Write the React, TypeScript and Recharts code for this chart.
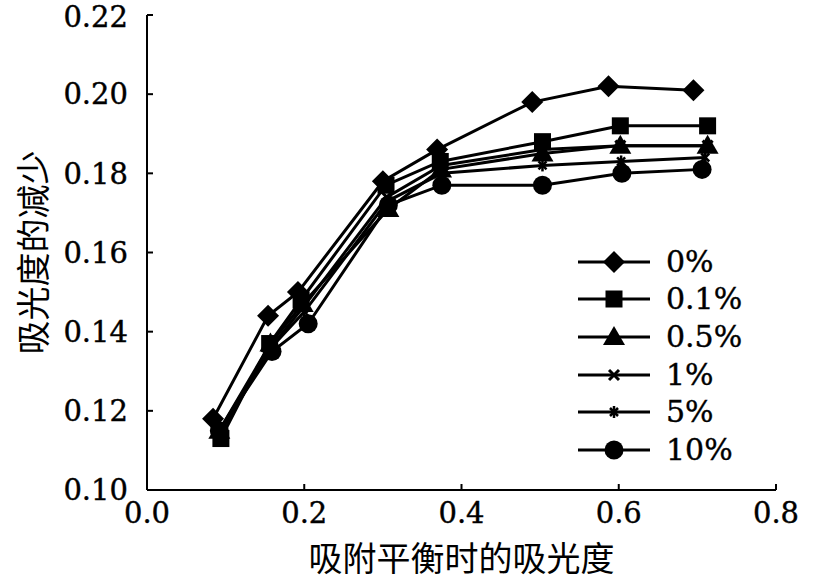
import { ScatterChart, Scatter, XAxis, YAxis, Legend } from 'recharts'

const X_TICKS = [0, 0.2, 0.4, 0.6, 0.8]
const Y_TICKS = [0.1, 0.12, 0.14, 0.16, 0.18, 0.2, 0.22]

// absorbance at adsorption equilibrium (x) per series
const X_0 = [0.084, 0.154, 0.192, 0.3, 0.369, 0.49, 0.587, 0.695]
const X_01 = [0.094, 0.156, 0.196, 0.304, 0.373, 0.503, 0.602, 0.713]
const X_05 = [0.092, 0.157, 0.198, 0.307, 0.374, 0.503, 0.602, 0.713]
const X_1 = [0.092, 0.157, 0.198, 0.305, 0.374, 0.503, 0.602, 0.713]
const X_5 = [0.092, 0.158, 0.2, 0.306, 0.375, 0.503, 0.603, 0.71]
const X_10 = [0.092, 0.159, 0.205, 0.307, 0.375, 0.503, 0.604, 0.706]

// decrease of absorbance (y)
const Y_0 = [0.118, 0.144, 0.15, 0.178, 0.186, 0.198, 0.202, 0.201]
const Y_01 = [0.113, 0.137, 0.148, 0.177, 0.183, 0.188, 0.192, 0.192]
const Y_05 = [0.115, 0.137, 0.147, 0.171, 0.181, 0.185, 0.187, 0.187]
const Y_1 = [0.115, 0.136, 0.146, 0.174, 0.182, 0.186, 0.187, 0.187]
const Y_5 = [0.114, 0.136, 0.145, 0.173, 0.18, 0.182, 0.183, 0.184]
const Y_10 = [0.115, 0.135, 0.142, 0.172, 0.177, 0.177, 0.18, 0.181]

const LABELS = ['0%', '0.1%', '0.5%', '1%', '5%', '10%']

type Mk = 'diamond' | 'square' | 'triangle' | 'x' | 'star' | 'circle'

const SERIES: { name: string; xs: number[]; ys: number[]; mk: Mk }[] = [
  { name: LABELS[0], xs: X_0, ys: Y_0, mk: 'diamond' },
  { name: LABELS[1], xs: X_01, ys: Y_01, mk: 'square' },
  { name: LABELS[2], xs: X_05, ys: Y_05, mk: 'triangle' },
  { name: LABELS[3], xs: X_1, ys: Y_1, mk: 'x' },
  { name: LABELS[4], xs: X_5, ys: Y_5, mk: 'star' },
  { name: LABELS[5], xs: X_10, ys: Y_10, mk: 'circle' },
]

const SERIF = "'DejaVu Serif', serif"
const CJK = "'Noto Sans CJK SC', sans-serif"

function Marker({ mk, cx, cy }: { mk: Mk; cx: number; cy: number }) {
  switch (mk) {
    case 'diamond':
      return <polygon points={`${cx},${cy - 11} ${cx + 11},${cy} ${cx},${cy + 11} ${cx - 11},${cy}`} fill="#000" />
    case 'square':
      return <rect x={cx - 8.5} y={cy - 8.5} width={17} height={17} fill="#000" />
    case 'triangle':
      return <polygon points={`${cx},${cy - 11} ${cx + 11},${cy + 8} ${cx - 11},${cy + 8}`} fill="#000" />
    case 'x':
      return (
        <g stroke="#000" strokeWidth={3}>
          <line x1={cx - 5} y1={cy - 5} x2={cx + 5} y2={cy + 5} />
          <line x1={cx - 5} y1={cy + 5} x2={cx + 5} y2={cy - 5} />
        </g>
      )
    case 'star':
      return (
        <g stroke="#000" strokeWidth={2.5}>
          <line x1={cx - 4} y1={cy - 4} x2={cx + 4} y2={cy + 4} />
          <line x1={cx - 4} y1={cy + 4} x2={cx + 4} y2={cy - 4} />
          <line x1={cx} y1={cy - 6} x2={cx} y2={cy + 6} />
        </g>
      )
    default:
      return <circle cx={cx} cy={cy} r={9.5} fill="#000" />
  }
}

function LegendBox() {
  return (
    <div style={{ width: 170 }}>
      {SERIES.map(s => (
        <div key={s.name} style={{ display: 'flex', alignItems: 'center', height: 37.6 }}>
          <svg width={74} height={26} style={{ display: 'block' }}>
            <line x1={0} y1={13} x2={72} y2={13} stroke="#000" strokeWidth={3} />
            <Marker mk={s.mk} cx={36} cy={13} />
          </svg>
          <span style={{ marginLeft: 14, fontFamily: SERIF, fontSize: 30, color: '#000', lineHeight: 1, WebkitTextStroke: '0.4px #000' }}>
            {s.name}
          </span>
        </div>
      ))}
    </div>
  )
}

function YTitle(props: any) {
  const vb = props.viewBox
  const cx = vb.x + 31
  const cy = vb.y + vb.height / 2
  return (
    <text x={cx} y={cy} transform={`rotate(-90 ${cx} ${cy})`} textAnchor="middle" dominantBaseline="central"
      style={{ fontFamily: CJK }} fontSize={34} fill="#000">
      吸光度的减少
    </text>
  )
}

function XTitle(props: any) {
  const vb = props.viewBox
  const cx = vb.x + vb.width / 2
  return (
    <text x={cx} y={vb.y + vb.height + 6} textAnchor="middle" dominantBaseline="central"
      style={{ fontFamily: CJK }} fontSize={34} fill="#000">
      吸附平衡时的吸光度
    </text>
  )
}

export default function App() {
  const tickStyle = {
    fill: '#000',
    fontSize: 29,
    style: { fontFamily: SERIF, stroke: '#000', strokeWidth: 0.4 },
  }
  return (
    <div style={{ position: 'absolute', left: 0, top: 0, width: 818, height: 584, background: '#fff', fontFamily: SERIF }}>
      <ScatterChart width={818} height={584} margin={{ top: 15, right: 42, bottom: 34, left: 0 }}>
        <XAxis
          type="number"
          dataKey="x"
          domain={[0, 0.8]}
          ticks={X_TICKS}
          tickFormatter={v => v.toFixed(1)}
          tick={tickStyle}
          height={60}
          tickSize={-6}
          tickMargin={18}
          axisLine={{ stroke: '#000', strokeWidth: 2 }}
          tickLine={{ stroke: '#000', strokeWidth: 2 }}
          label={{ content: <XTitle /> }}
        />
        <YAxis
          type="number"
          dataKey="y"
          domain={[0.1, 0.22]}
          ticks={Y_TICKS}
          tickFormatter={v => v.toFixed(2)}
          tick={tickStyle}
          width={147}
          tickSize={-6}
          tickMargin={25}
          axisLine={{ stroke: '#000', strokeWidth: 2 }}
          tickLine={{ stroke: '#000', strokeWidth: 2 }}
          label={{ content: <YTitle /> }}
        />
        <Legend
          layout="vertical"
          align="center"
          verticalAlign="middle"
          content={<LegendBox />}
          wrapperStyle={{ position: 'absolute', left: 578, top: 243, width: 180 }}
        />
        {SERIES.map(s => (
          <Scatter
            key={s.name}
            name={s.name}
            data={s.xs.map((x, i) => ({ x, y: s.ys[i] }))}
            line={{ stroke: '#000', strokeWidth: 3 }}
            lineType="joint"
            shape={(p: any) => <Marker mk={s.mk} cx={p.cx} cy={p.cy} />}
            isAnimationActive={false}
          />
        ))}
      </ScatterChart>
    </div>
  )
}
